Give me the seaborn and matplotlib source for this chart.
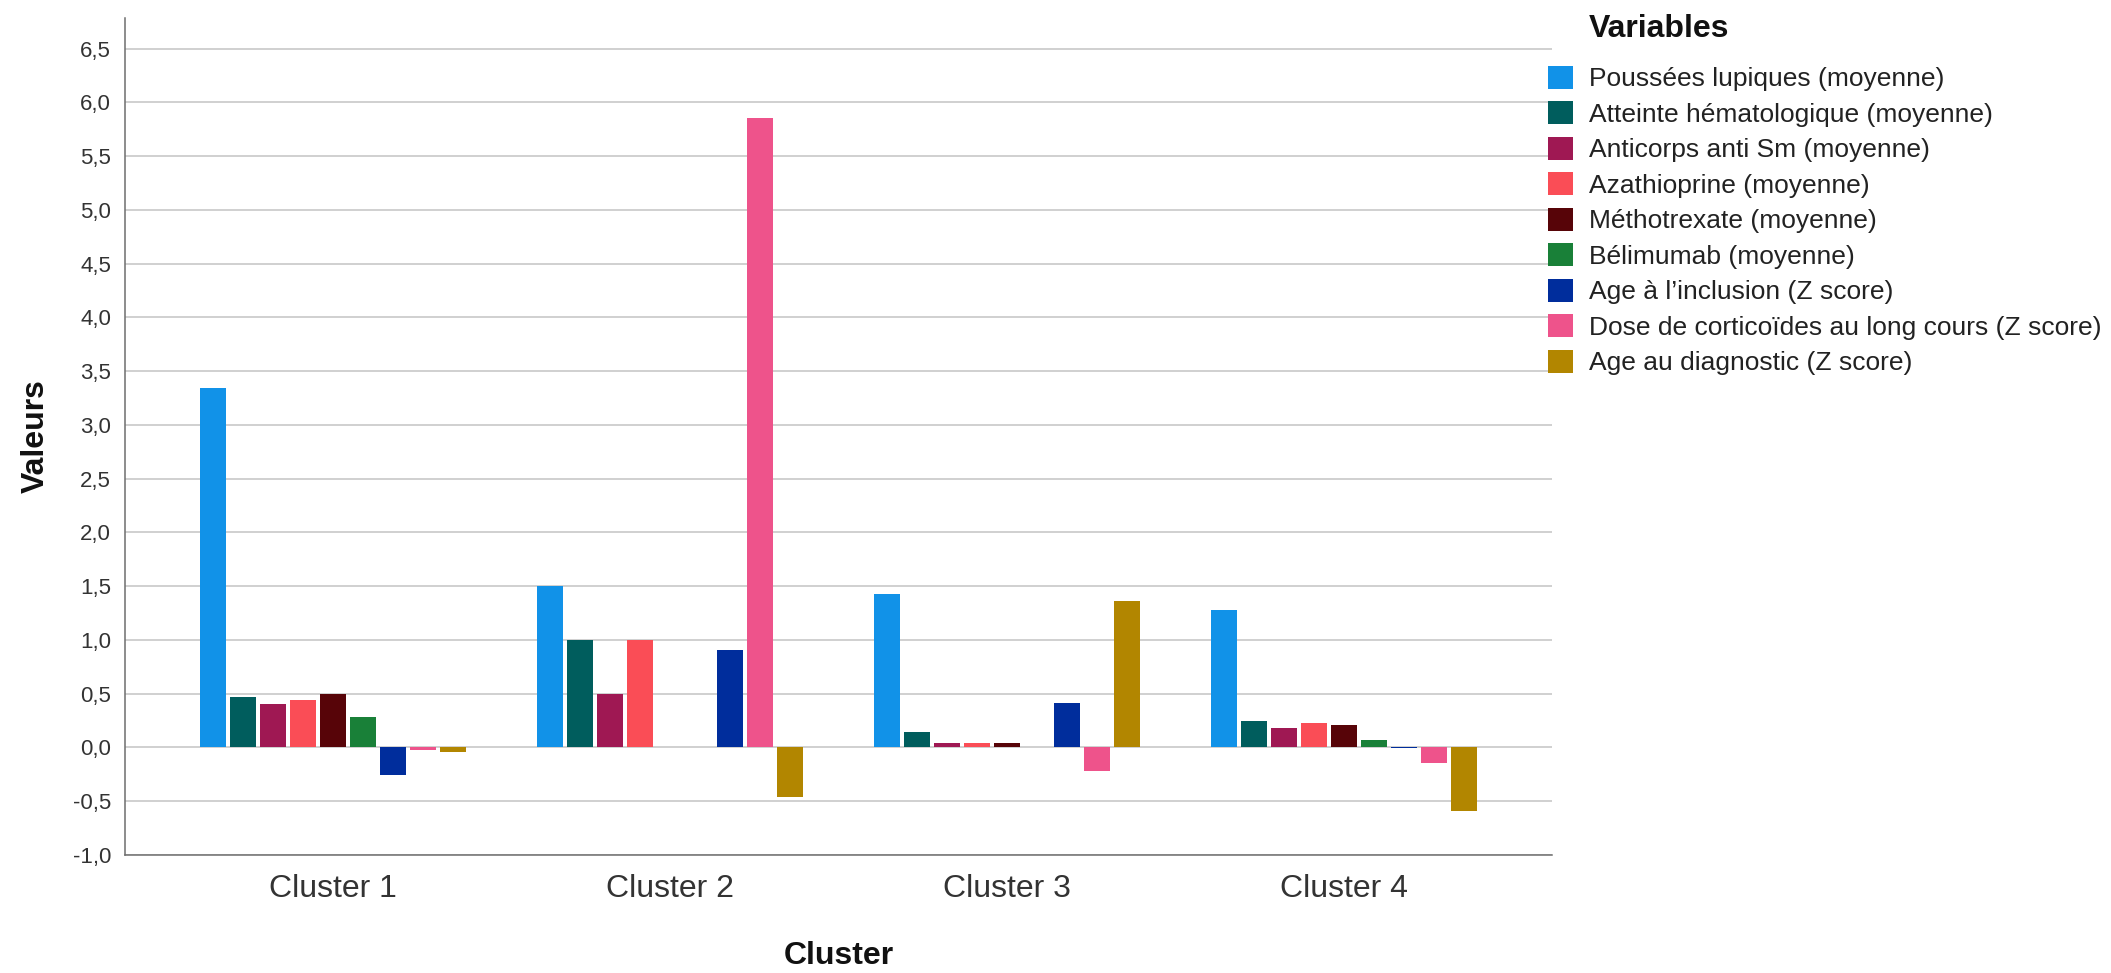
import pandas as pd
import numpy as np
import seaborn as sns
import matplotlib
matplotlib.use("Agg")
import matplotlib.pyplot as plt

clusters = ['Cluster 1', 'Cluster 2', 'Cluster 3', 'Cluster 4']

variables = [
    'Poussées lupiques (moyenne)',
    'Atteinte hématologique (moyenne)',
    'Anticorps anti Sm (moyenne)',
    'Azathioprine (moyenne)',
    'Méthotrexate (moyenne)',
    'Bélimumab (moyenne)',
    'Age à l\u2019inclusion (Z score)',
    'Dose de corticoïdes au long cours (Z score)',
    'Age au diagnostic (Z score)',
]

colors = ['#1192e8', '#005d5d', '#9f1853', '#fa4d56', '#570408',
          '#198038', '#002d9c', '#ee538b', '#b28600']

# one list per cluster, in the order of `variables`
cluster1_values = [3.34, 0.47, 0.40, 0.44, 0.50, 0.28, -0.26, -0.02, -0.045]
cluster2_values = [1.50, 1.00, 0.50, 1.00, 0.00, 0.00, 0.905, 5.855, -0.46]
cluster3_values = [1.43, 0.14, 0.045, 0.045, 0.045, 0.00, 0.41, -0.22, 1.36]
cluster4_values = [1.275, 0.25, 0.18, 0.225, 0.205, 0.07, -0.008, -0.14, -0.595]

y_ticks = [-1.0, -0.5, 0.0, 0.5, 1.0, 1.5, 2.0, 2.5, 3.0, 3.5, 4.0, 4.5, 5.0, 5.5, 6.0, 6.5]

rows = []
for cl, vals in zip(clusters, [cluster1_values, cluster2_values, cluster3_values, cluster4_values]):
    for var, v in zip(variables, vals):
        rows.append({'Cluster': cl, 'Variable': var, 'Valeur': v})
data = pd.DataFrame(rows)

sns.set_style('white')
plt.rcParams['font.family'] = ['Liberation Sans', 'DejaVu Sans']

fig = plt.figure(figsize=(21.11, 9.73), dpi=100)
ax = fig.add_axes([125 / 2111, 1 - 855 / 973, (1552 - 125) / 2111, (855 - 18) / 973])

sns.barplot(data=data, x='Cluster', y='Valeur', hue='Variable', hue_order=variables,
            order=clusters, palette=colors, width=0.8, gap=0.12, errorbar=None,
            saturation=1, linewidth=0, ax=ax)

ax.set_xlim(-0.617, 3.617)
ax.set_ylim(-1.0, 6.785)
ax.set_yticks(y_ticks)
ax.set_yticklabels([('%.1f' % t).replace('.', ',') for t in y_ticks])
ax.yaxis.grid(True, color='#c8c8c8', linewidth=1.2)
ax.set_axisbelow(True)

for side in ['top', 'right']:
    ax.spines[side].set_visible(False)
for side in ['left', 'bottom']:
    ax.spines[side].set_color('#6e6e6e')
    ax.spines[side].set_linewidth(1.1)

ax.tick_params(axis='y', length=0, pad=10, labelsize=16, labelcolor='#333333')
ax.tick_params(axis='x', length=0, pad=14, labelsize=23, labelcolor='#333333')

ax.set_xlabel('Cluster', fontsize=23, fontweight='bold', labelpad=26, color='#111111')
ax.set_ylabel('Valeurs', fontsize=23, fontweight='bold', labelpad=16, color='#111111')

handles, labels = ax.get_legend_handles_labels()
ax.get_legend().remove()
fig.legend(handles, labels, loc='upper left', bbox_to_anchor=(1548 / 2111, 1 - 66 / 973),
           frameon=False, fontsize=19, borderpad=0, borderaxespad=0,
           handlelength=0.95, handleheight=0.95, handletextpad=0.59, labelspacing=0.38,
           labelcolor='#222222')
fig.text(1589 / 2111, 1 - 29 / 973, 'Variables', fontsize=23, fontweight='bold',
         va='center', ha='left', color='#111111')

fig.savefig('out.png', dpi=100)
